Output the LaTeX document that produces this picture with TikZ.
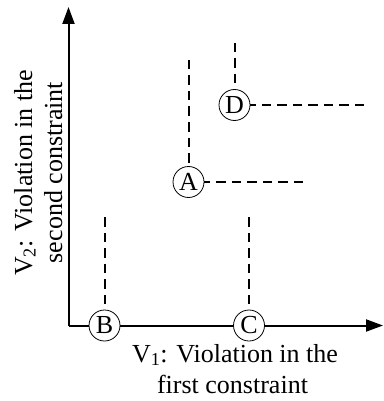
\documentclass[tikz,border=0pt]{standalone}
\usepackage{fontspec}
\setmainfont{Liberation Serif}
\usetikzlibrary{arrows.meta}
\begin{document}
\begin{tikzpicture}[x=1pt,y=-1pt,
  axis/.style={line width=2pt,-{Triangle[length=17pt,width=12pt]}},
  dline/.style={line width=2pt,dash pattern=on 9.5pt off 6pt},
  pt/.style={circle,draw,line width=0.8pt,fill=white,minimum size=31pt,inner sep=0pt,font=\fontsize{26}{26}\selectfont},
  lbl/.style={anchor=base,inner sep=0pt,font=\fontsize{26}{31}\selectfont}]
\useasboundingbox (0,0) rectangle (383,401);
\coordinate (O) at (68.5,325.5);
\coordinate (Ytip) at (68.5,7);
\coordinate (Xtip) at (383,325.5);
\draw[axis] (O) -- (Ytip);
\draw[axis] (O) -- (Xtip);
% dashed line ends
\coordinate (Bt) at (104.5,217);
\coordinate (Ct) at (249,217);
\coordinate (At) at (188.5,60);
\coordinate (Ar) at (303,182);
\coordinate (Dt) at (234.5,43);
\coordinate (Dr) at (364,105);
\node[pt] (B) at (104.5,325.5) {B};
\node[pt] (C) at (249,325.5) {C};
\node[pt] (A) at (188.5,182) {A};
\node[pt] (D) at (234.5,105) {D};
\draw[dline] (Bt) -- (B.north);
\draw[dline] (Ct) -- (C.north);
\draw[dline] (At) -- (A.north);
\draw[dline] (Ar) -- (A.east);
\draw[dline] (Dt) -- (D.north);
\draw[dline] (Dr) -- (D.east);
\node[lbl] (x1) at (235,362) {V\textsubscript{1}: Violation in the};
\node[lbl] (x2) at (232.5,393) {first constraint};
\node[lbl,rotate=90] (y1) at (32,173) {V\textsubscript{2}: Violation in the};
\node[lbl,rotate=90] (y2) at (62,172.5) {second constraint};
\end{tikzpicture}
\end{document}
